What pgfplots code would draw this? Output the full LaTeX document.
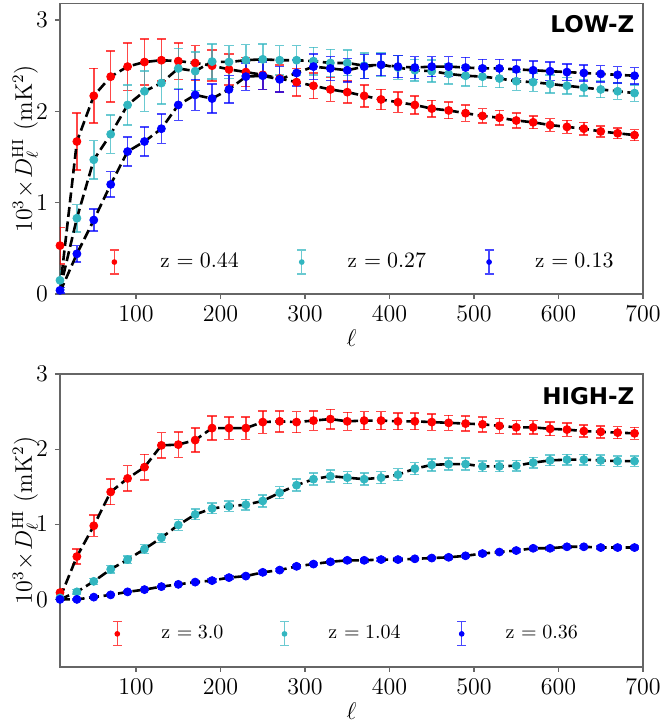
\documentclass[border=0pt]{standalone}
\usepackage{fontspec}
\usepackage{pgfplots}
\usepackage{pgfplotstable}
\pgfplotsset{compat=1.18}
\newfontfamily\panelfont{DejaVu Sans}

\definecolor{zred}{rgb}{1,0,0}
\definecolor{zcyan}{RGB}{50,182,192}
\definecolor{zblue}{rgb}{0,0,1}
\definecolor{framegray}{gray}{0.4}

% columns: multipole l, measured D_l, 1-sigma error, model curve
\pgfplotstableread{
l y e m
10 0.53 0.20 0.05
30 1.67 0.31 1.67
50 2.17 0.30 2.17
70 2.38 0.28 2.38
90 2.49 0.26 2.49
110 2.54 0.25 2.54
130 2.56 0.23 2.56
150 2.55 0.20 2.55
170 2.53 0.19 2.53
190 2.50 0.17 2.50
210 2.46 0.17 2.46
230 2.43 0.16 2.43
250 2.40 0.16 2.40
270 2.36 0.15 2.36
290 2.32 0.15 2.32
310 2.28 0.14 2.28
330 2.24 0.13 2.24
350 2.21 0.12 2.21
370 2.17 0.12 2.17
390 2.13 0.11 2.13
410 2.10 0.11 2.10
430 2.07 0.10 2.07
450 2.03 0.09 2.03
470 2.01 0.09 2.01
490 1.98 0.09 1.98
510 1.95 0.08 1.95
530 1.93 0.08 1.93
550 1.90 0.08 1.90
570 1.88 0.07 1.88
590 1.85 0.07 1.85
610 1.83 0.07 1.83
630 1.81 0.07 1.81
650 1.78 0.06 1.78
670 1.76 0.06 1.76
690 1.74 0.06 1.74
}\lowA

\pgfplotstableread{
l y e m
10 0.15 0.10 0.05
30 0.83 0.15 0.83
50 1.47 0.21 1.47
70 1.75 0.21 1.75
90 2.07 0.22 2.07
110 2.22 0.22 2.22
130 2.31 0.23 2.31
150 2.47 0.22 2.47
170 2.44 0.21 2.44
190 2.545 0.19 2.545
210 2.54 0.18 2.54
230 2.56 0.17 2.56
250 2.57 0.17 2.57
270 2.56 0.16 2.56
290 2.56 0.16 2.56
310 2.55 0.15 2.55
330 2.53 0.15 2.53
350 2.53 0.14 2.53
370 2.50 0.14 2.50
390 2.51 0.13 2.51
410 2.48 0.13 2.48
430 2.45 0.12 2.45
450 2.44 0.12 2.44
470 2.41 0.11 2.41
490 2.39 0.11 2.39
510 2.38 0.11 2.38
530 2.36 0.10 2.36
550 2.33 0.10 2.33
570 2.32 0.10 2.32
590 2.30 0.10 2.30
610 2.28 0.09 2.28
630 2.26 0.09 2.26
650 2.24 0.09 2.24
670 2.22 0.09 2.22
690 2.20 0.09 2.20
}\lowB

\pgfplotstableread{
l y e m
10 0.04 0.03 0.02
30 0.44 0.09 0.44
50 0.81 0.12 0.81
70 1.20 0.14 1.20
90 1.56 0.16 1.56
110 1.67 0.16 1.67
130 1.81 0.16 1.81
150 2.07 0.17 2.07
170 2.18 0.17 2.18
190 2.14 0.16 2.14
210 2.24 0.15 2.24
230 2.38 0.15 2.38
250 2.39 0.15 2.39
270 2.35 0.14 2.35
290 2.42 0.14 2.42
310 2.49 0.14 2.49
330 2.47 0.13 2.47
350 2.45 0.13 2.45
370 2.49 0.13 2.49
390 2.51 0.12 2.51
410 2.49 0.12 2.49
430 2.48 0.12 2.48
450 2.49 0.11 2.49
470 2.49 0.11 2.49
490 2.48 0.11 2.48
510 2.47 0.10 2.47
530 2.47 0.10 2.47
550 2.46 0.10 2.46
570 2.45 0.10 2.45
590 2.44 0.10 2.44
610 2.43 0.09 2.43
630 2.42 0.09 2.42
650 2.41 0.09 2.41
670 2.40 0.09 2.40
690 2.39 0.09 2.39
}\lowC

\pgfplotstableread{
l y e m
10 0.09 0.05 0.02
30 0.57 0.10 0.57
50 0.98 0.14 0.98
70 1.43 0.17 1.43
90 1.61 0.17 1.61
110 1.76 0.17 1.76
130 2.05 0.17 2.05
150 2.06 0.17 2.06
170 2.12 0.16 2.12
190 2.28 0.16 2.28
210 2.28 0.15 2.28
230 2.28 0.15 2.28
250 2.36 0.15 2.36
270 2.37 0.14 2.37
290 2.36 0.14 2.36
310 2.38 0.13 2.38
330 2.40 0.13 2.40
350 2.37 0.12 2.37
370 2.38 0.12 2.38
390 2.38 0.12 2.38
410 2.37 0.11 2.37
430 2.37 0.11 2.37
450 2.36 0.11 2.36
470 2.35 0.10 2.35
490 2.34 0.10 2.34
510 2.33 0.10 2.33
530 2.31 0.10 2.31
550 2.29 0.09 2.29
570 2.29 0.09 2.29
590 2.27 0.09 2.27
610 2.26 0.09 2.26
630 2.24 0.08 2.24
650 2.23 0.08 2.23
670 2.22 0.08 2.22
690 2.21 0.08 2.21
}\highA

\pgfplotstableread{
l y e m
10 0.02 0.02 0.00
30 0.10 0.03 0.10
50 0.24 0.04 0.24
70 0.40 0.05 0.40
90 0.53 0.05 0.53
110 0.67 0.06 0.67
130 0.82 0.06 0.82
150 0.99 0.07 0.99
170 1.13 0.07 1.13
190 1.21 0.07 1.21
210 1.24 0.07 1.24
230 1.26 0.07 1.26
250 1.31 0.08 1.31
270 1.42 0.08 1.42
290 1.52 0.08 1.52
310 1.60 0.08 1.60
330 1.64 0.08 1.64
350 1.62 0.08 1.62
370 1.60 0.08 1.60
390 1.62 0.08 1.62
410 1.66 0.08 1.66
430 1.74 0.08 1.74
450 1.79 0.08 1.79
470 1.80 0.08 1.80
490 1.80 0.08 1.80
510 1.77 0.07 1.77
530 1.77 0.07 1.77
550 1.78 0.07 1.78
570 1.82 0.07 1.82
590 1.85 0.07 1.85
610 1.86 0.07 1.86
630 1.86 0.07 1.86
650 1.85 0.07 1.85
670 1.84 0.07 1.84
690 1.84 0.07 1.84
}\highB

\pgfplotstableread{
l y e m
10 0.00 0.01 0.00
30 0.00 0.01 0.00
50 0.03 0.01 0.03
70 0.06 0.01 0.06
90 0.10 0.01 0.10
110 0.13 0.01 0.13
130 0.17 0.01 0.17
150 0.20 0.01 0.20
170 0.23 0.01 0.23
190 0.25 0.02 0.25
210 0.29 0.02 0.29
230 0.31 0.02 0.31
250 0.36 0.02 0.36
270 0.39 0.02 0.39
290 0.44 0.02 0.44
310 0.47 0.02 0.47
330 0.50 0.02 0.50
350 0.52 0.02 0.52
370 0.52 0.02 0.52
390 0.53 0.02 0.53
410 0.53 0.02 0.53
430 0.54 0.02 0.54
450 0.55 0.02 0.55
470 0.56 0.02 0.56
490 0.58 0.02 0.58
510 0.61 0.02 0.61
530 0.63 0.02 0.63
550 0.65 0.02 0.65
570 0.68 0.02 0.68
590 0.68 0.02 0.68
610 0.70 0.02 0.70
630 0.70 0.02 0.70
650 0.69 0.02 0.69
670 0.69 0.02 0.69
690 0.69 0.02 0.69
}\highC

\pgfplotsset{
  panel/.style={
    scale only axis, width=291.5pt,
    xmin=10, xmax=700, xtick={100,200,...,700},
    axis line style={framegray, line width=0.7pt},
    tick align=outside, xtick pos=bottom, ytick pos=left,
    major tick length=2.5pt,
    tick style={framegray, line width=0.6pt},
    tick label style={font=\fontsize{12}{14}\selectfont},
    label style={font=\fontsize{12}{14}\selectfont},
    xlabel={$\ell$},
    xlabel style={yshift=2.5pt},
    ylabel={$10^3\!\times\! D_\ell^{\rm HI}$ (mK$^2$)},
    ylabel style={at={(axis description cs:-0.06,0.5)}, anchor=center},
    clip=true,
    legend columns=3,
    legend cell align=left,
  },
  zdata/.style={
    only marks, mark=*, mark size=2pt, color=#1,
    mark options={draw=#1, fill=#1, solid},
    error bars/y dir=both, error bars/y explicit,
    error bars/error bar style={line width=0.75pt, #1, opacity=0.72, solid},
    error bars/error mark options={rotate=90, mark size=2.3pt, line width=0.75pt, #1, opacity=0.72},
    legend image code/.code={
      \draw[#1, opacity=0.72, line width=0.6pt]
        (0pt,-6pt) -- (0pt,6pt)
        (-2.2pt,-6pt) -- (2.2pt,-6pt)
        (-2.2pt,6pt) -- (2.2pt,6pt);
      \fill[#1] (0pt,0pt) circle (1.2pt);
    },
  },
  zmodel/.style={black, line width=1.3pt, dash pattern=on 5pt off 2.3pt, no marks, forget plot},
}

\begin{document}
\begin{tikzpicture}
\path[use as bounding box] (0,0) rectangle (330pt,362pt);

% low-redshift panel
\begin{axis}[panel, at={(30pt,215pt)}, anchor=south west,
  height=145.2pt, ymin=0, ymax=3.18, ytick={0,1,2,3},
  legend style={at={(axis description cs:0.084,0.11)}, anchor=west,
    draw=none, fill=white, inner sep=0pt,
    font=\fontsize{10.5}{13}\selectfont,
    nodes={inner xsep=0pt},
    /tikz/every odd column/.style={column sep=20.5pt},
    /tikz/every even column/.style={column sep=29pt}},
]
\addplot[zdata=zred] table[x=l, y=y, y error=e] {\lowA};
\addlegendentry{z $=0.44$}
\addplot[zdata=zcyan] table[x=l, y=y, y error=e] {\lowB};
\addlegendentry{z $=0.27$}
\addplot[zdata=zblue] table[x=l, y=y, y error=e] {\lowC};
\addlegendentry{z $=0.13$}
\addplot[zmodel] table[x=l, y=m] {\lowA};
\addplot[zmodel] table[x=l, y=m] {\lowB};
\addplot[zmodel] table[x=l, y=m] {\lowC};
\node[anchor=north east, inner sep=0pt, font=\panelfont\bfseries\fontsize{11.5}{13}\selectfont]
  at (rel axis cs:0.986,0.959) {LOW-Z};
\end{axis}

% high-redshift panel
\begin{axis}[panel, at={(30pt,28.5pt)}, anchor=south west,
  height=146.5pt, ymin=-0.9, ymax=3, ytick={0,1,2,3},
  legend style={at={(axis description cs:0.089,0.113)}, anchor=west,
    draw=none, fill=white, inner sep=0pt,
    font=\fontsize{10}{12}\selectfont,
    nodes={inner xsep=0pt},
    /tikz/every odd column/.style={column sep=19.5pt},
    /tikz/every even column/.style={column sep=28pt}},
]
\addplot[zdata=zred] table[x=l, y=y, y error=e] {\highA};
\addlegendentry{z $=3.0$}
\addplot[zdata=zcyan] table[x=l, y=y, y error=e] {\highB};
\addlegendentry{z $=1.04$}
\addplot[zdata=zblue] table[x=l, y=y, y error=e] {\highC};
\addlegendentry{z $=0.36$}
\addplot[zmodel] table[x=l, y=m] {\highA};
\addplot[zmodel] table[x=l, y=m] {\highB};
\addplot[zmodel] table[x=l, y=m] {\highC};
\node[anchor=north east, inner sep=0pt, font=\panelfont\bfseries\fontsize{11.5}{13}\selectfont]
  at (rel axis cs:0.986,0.955) {HIGH-Z};
\end{axis}
\end{tikzpicture}
\end{document}
